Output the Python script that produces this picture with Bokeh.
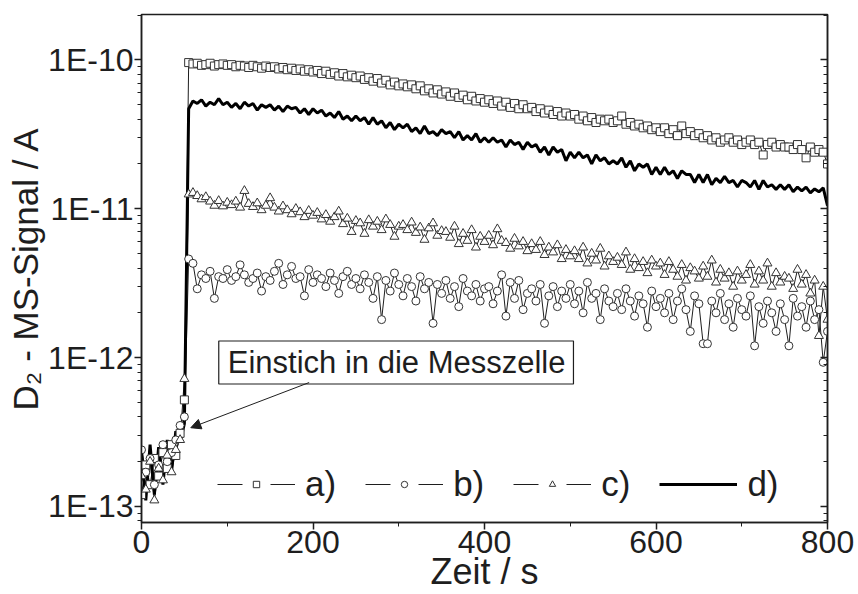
import numpy as np
from bokeh.plotting import figure
from bokeh.models import (Range1d, FixedTicker, LogAxis, CustomJSTickFormatter,
                          Legend, LegendItem, Label, Arrow, NormalHead)
from bokeh.embed import file_html
from bokeh.resources import INLINE

# ---------------- data (signal in pA = 1e-12 A) ----------------
time_s = list(range(0, 801, 5))

sig_a_pA = [0.12, 0.19, 0.14, 0.21, 0.16, 0.23, 0.18, 0.26, 0.22, 0.31,
            0.52,
            96, 94, 95, 92, 93, 95, 91, 93, 94, 92,
            93, 90, 92, 91, 89, 92, 90, 88, 91, 89,
            90, 87, 89, 86, 88, 85, 87, 84, 86, 83,
            85, 81, 84, 80, 82, 78, 81, 77, 79, 76,
            78, 74, 76, 72, 75, 70, 73, 68, 71, 67,
            69, 66, 68, 64, 67, 62, 64, 60, 63, 59,
            61, 57, 60, 56, 58, 54, 57, 53, 55, 52,
            54, 51, 53, 49, 52, 48, 51, 47, 50, 47,
            48, 45, 47, 44, 46, 43, 45, 42, 44, 42,
            43, 40, 42, 39, 41, 38, 40, 39, 40, 38,
            39, 42, 37, 38, 36, 37, 35, 36, 34, 35,
            33, 35, 32, 34, 31, 36, 32, 33, 31, 32,
            30, 31, 29, 30, 28, 29, 30, 28, 29, 27,
            28, 29, 27, 28, 23, 27, 28, 26, 27, 26,
            26, 25, 27, 25, 22, 26, 24, 25, 24, 20]

sig_b_pA = [0.24, 0.17, 0.21, 0.14, 0.19, 0.26, 0.20, 0.23, 0.28, 0.35,
            0.40,
            4.6, 4.3, 2.9, 3.6, 3.4, 3.8, 2.5, 3.5, 3.4, 3.9,
            3.3, 3.5, 4.2, 3.6, 3.2, 3.4, 3.7, 2.8, 3.5, 3.3,
            3.8, 4.3, 3.1, 3.6, 4.1, 3.4, 3.5, 2.6, 3.9, 3.2,
            3.6, 3.4, 3.0, 3.7, 3.3, 2.7, 3.5, 3.8, 3.1, 3.4,
            2.9, 3.6, 3.2, 2.5, 3.5, 1.8, 3.3, 2.8, 3.7, 3.1,
            2.6, 3.4, 3.0, 2.4, 3.5, 2.9, 3.2, 1.7, 3.1, 2.7,
            3.3, 2.5, 3.0, 2.2, 3.4, 2.8, 2.6, 3.1, 2.4, 2.9,
            3.0, 2.3, 2.8, 3.6, 1.9, 3.2, 2.5, 3.3, 2.1, 2.7,
            2.9, 2.4, 3.1, 1.7, 2.6, 3.0, 2.2, 2.8, 2.5, 3.1,
            2.3, 2.8, 2.0, 3.2, 2.5, 2.7, 1.8, 2.9, 2.4, 2.2,
            2.7, 2.1, 2.9, 2.4, 1.9, 2.6, 2.3, 1.6, 2.8, 2.2,
            2.5, 2.0, 2.7, 1.8, 2.4, 2.9, 2.1, 1.5, 2.6, 2.3,
            1.24, 1.24, 2.4, 2.0, 2.7, 1.8, 2.3, 1.6, 2.5, 2.1,
            1.9, 2.6, 1.2, 2.2, 1.7, 2.4, 2.0, 1.5, 2.3, 1.8,
            1.2, 2.5, 1.9, 2.2, 1.6, 2.4, 1.8, 2.1, 0.93, 1.5]

sig_c_pA = [0.16, 0.13, 0.20, 0.11, 0.18, 0.15, 0.22, 0.17, 0.24, 0.28,
            0.72,
            12.5, 12.8, 12.2, 11.6, 12.0, 11.2, 10.5, 11.3, 10.4, 11.0,
            10.6, 11.2, 10.2, 13.2, 10.8, 10.3, 10.9, 9.8, 10.5, 11.8,
            10.2, 9.6, 10.4, 9.8, 9.2, 10.0, 9.5, 8.8, 9.7, 9.0,
            9.4, 8.5, 9.1, 8.2, 8.8, 9.6, 7.9, 8.6, 7.0, 8.3,
            8.0, 6.8, 8.4, 7.6, 8.2, 7.2, 8.5, 7.8, 6.5, 7.6,
            7.8, 7.2, 8.1, 6.9, 7.5, 6.2, 7.4, 8.0, 6.6, 7.1,
            7.0, 6.4, 7.6, 5.8, 6.8, 6.1, 7.2, 5.5, 6.5, 6.0,
            6.6, 5.7, 7.3, 6.1, 5.9, 5.4, 6.3, 5.6, 6.0, 5.2,
            5.8, 5.3, 6.0, 4.9, 5.5, 5.1, 5.7, 4.6, 5.3, 4.8,
            5.2, 4.6, 5.5, 4.3, 5.0, 4.5, 5.4, 4.1, 4.8, 4.4,
            4.7, 4.2, 5.1, 3.9, 4.6, 4.0, 4.4, 3.7, 4.5, 4.1,
            4.3, 3.6, 4.4, 3.9, 3.5, 4.2, 3.3, 4.0, 3.8, 3.4,
            4.1, 3.5, 4.5, 3.2, 3.9, 3.4, 3.7, 3.0, 3.8, 3.3,
            3.6, 4.2, 3.1, 3.8, 3.3, 4.3, 3.0, 3.7, 3.2, 3.5,
            3.4, 2.9, 3.9, 3.1, 3.6, 2.7, 3.3, 1.4, 3.0, 1.8]

sig_d_pA = [0.24, 0.11, 0.26, 0.12, 0.25, 0.14, 0.28, 0.17, 0.32, 0.27,
            0.36,
            47, 53, 51, 54, 49, 52, 50, 55, 50, 52,
            48, 51, 47, 52, 49, 51, 46, 50, 48, 50,
            46, 49, 45, 49, 47, 48, 44, 47, 43, 47,
            44, 46, 42, 44, 41, 45, 40, 42, 39, 42,
            39, 41, 37, 41, 37, 39, 35, 38, 34, 37,
            35, 37, 33, 35, 32, 36, 32, 33, 31, 34,
            32, 33, 30, 33, 29, 31, 29, 32, 28, 30,
            28, 30, 28, 29, 26, 29, 27, 28, 25, 28,
            26, 27, 24, 26, 23, 26, 24, 25, 21, 24,
            22, 24, 22, 23, 20, 23, 21, 22, 20, 21,
            20, 22, 19, 21, 18, 20, 19, 20, 17, 19,
            17, 19, 17, 18, 16, 18, 17, 17, 15, 17,
            15, 17, 14.5, 16, 15, 16.5, 15, 15.5, 14, 15.5,
            15, 14, 15.5, 13.5, 15.5, 14, 14.5, 13.5, 14.5, 13.5,
            14.5, 13, 14, 13.2, 14, 12.8, 13.6, 13, 13.8, 10.5]

series_labels = ["a)", "b)", "c)", "d)"]
x_ticks = [0, 200, 400, 600, 800]
x_minor = [100, 300, 500, 700]
y_decades = [-13, -12, -11, -10]

PA = 1e-12
t = np.array(time_s, dtype=float)
ya = np.array(sig_a_pA) * PA
yb = np.array(sig_b_pA) * PA
yc = np.array(sig_c_pA) * PA
yd = np.array(sig_d_pA) * PA

FONT = "Liberation Sans"
INK = "#1e1e1e"

p = figure(width=856, height=594, y_axis_type="log",
           x_range=Range1d(0, 800), y_range=Range1d(7.8e-14, 2.02e-10),
           output_backend="svg", toolbar_location=None,
           min_border_left=141, min_border_right=29, min_border_top=14,
           min_border_bottom=72)
p.grid.visible = False
p.outline_line_color = INK
p.outline_line_width = 1.5
p.background_fill_color = "white"
p.border_fill_color = "white"

y_major = [10.0 ** e for e in y_decades]
y_minor = [m * 10.0 ** e for e in range(-14, -9) for m in range(2, 10)]

# bottom axis
xa = p.xaxis[0]
xa.ticker = FixedTicker(ticks=x_ticks, minor_ticks=x_minor)
xa.axis_line_width = 1.5
xa.axis_line_color = INK
xa.major_tick_line_color = INK
xa.minor_tick_line_color = INK
xa.major_tick_line_width = 1.5
xa.major_tick_out = 7
xa.major_tick_in = 0
xa.minor_tick_out = 4
xa.minor_tick_in = 0
xa.major_label_text_font = FONT
xa.major_label_text_font_size = "32px"
xa.major_label_text_color = INK
xa.major_label_standoff = 1
xa.axis_label = "Zeit / s"
xa.axis_label_text_font = FONT
xa.axis_label_text_font_size = "36px"
xa.axis_label_text_font_style = "normal"
xa.axis_label_text_color = INK
xa.axis_label_standoff = -5

# left axis
ya_ax = p.yaxis[0]
ya_ax.ticker = FixedTicker(ticks=y_major, minor_ticks=y_minor)
ya_ax.formatter = CustomJSTickFormatter(code="return '1E' + Math.round(Math.log10(tick)).toString();")
ya_ax.axis_line_width = 1.5
ya_ax.axis_line_color = INK
ya_ax.major_tick_line_color = INK
ya_ax.minor_tick_line_color = INK
ya_ax.major_tick_line_width = 1.5
ya_ax.major_tick_out = 7
ya_ax.major_tick_in = 0
ya_ax.minor_tick_out = 4
ya_ax.minor_tick_in = 0
ya_ax.major_label_text_font = FONT
ya_ax.major_label_text_font_size = "32px"
ya_ax.major_label_text_color = INK
ya_ax.major_label_standoff = 1
ya_ax.axis_label = "D\u2082 - MS-Signal / A"
ya_ax.axis_label_text_font = FONT
ya_ax.axis_label_text_font_size = "35px"
ya_ax.axis_label_text_font_style = "normal"
ya_ax.axis_label_text_color = INK
ya_ax.axis_label_standoff = 0

# right axis (ticks inward, no labels)
ra = LogAxis(ticker=FixedTicker(ticks=y_major, minor_ticks=y_minor),
             formatter=CustomJSTickFormatter(code="return '';"),
             major_tick_in=7, major_tick_out=0, minor_tick_in=4, minor_tick_out=0,
             major_label_text_font_size="0px", major_label_standoff=0,
             axis_line_width=1.5, axis_line_color=INK,
             major_tick_line_color=INK, minor_tick_line_color=INK,
             major_tick_line_width=1.5)
p.add_layout(ra, "right")

# lines
la = p.line(t, ya, line_color=INK, line_width=1)
lb = p.line(t, yb, line_color=INK, line_width=1)
lc = p.line(t, yc, line_color=INK, line_width=1)
ld = p.line(t, yd, line_color="black", line_width=3)

# markers
sa = p.scatter(t, ya, marker="square", size=8, line_color="#333333", line_width=1, fill_color="white")
sb = p.scatter(t, yb, marker="circle", size=8, line_color="#333333", line_width=1, fill_color="white")
sc = p.scatter(t, yc, marker="triangle", size=9, line_color="#333333", line_width=1, fill_color="white")

# legend-only glyphs (hidden in the plot): broken line with a small symbol in the gap
gap_dash = "25 28"
lgl_a = p.line(t, ya, line_color=INK, line_width=1, line_dash=gap_dash, visible=False)
lgl_b = p.line(t, yb, line_color=INK, line_width=1, line_dash=gap_dash, visible=False)
lgl_c = p.line(t, yc, line_color=INK, line_width=1, line_dash=gap_dash, visible=False)
lga = p.scatter(t, ya, marker="square", line_color="#333333", line_width=1, fill_color="white", visible=False)
lgb = p.scatter(t, yb, marker="circle", line_color="#333333", line_width=1, fill_color="white", visible=False)
lgc = p.scatter(t, yc, marker="triangle", line_color="#333333", line_width=1, fill_color="white", visible=False)

legend = Legend(items=[LegendItem(label=series_labels[0], renderers=[lgl_a, lga]),
                       LegendItem(label=series_labels[1], renderers=[lgl_b, lgb]),
                       LegendItem(label=series_labels[2], renderers=[lgl_c, lgc]),
                       LegendItem(label=series_labels[3], renderers=[ld])],
                orientation="horizontal", location=(76, 18),
                glyph_width=78, glyph_height=16, label_standoff=10, spacing=29,
                padding=0, margin=0, border_line_color=None,
                background_fill_alpha=0, inactive_fill_alpha=0,
                label_text_font=FONT, label_text_font_size="35px",
                label_text_color=INK)
p.add_layout(legend)

# annotation box + arrow
note_x, note_y = 90.1, 9.27e-13
p.add_layout(Label(x=note_x, y=note_y, text="Einstich in die Messzelle",
                   text_font=FONT, text_font_size="31px", text_color=INK,
                   text_align="left", text_baseline="middle",
                   border_line_color=INK, border_line_width=1.2,
                   background_fill_color="white",
                   padding=dict(left=9, right=8, top=4, bottom=4)))

arrow_start = (195.5, 6.8e-13)
arrow_end = (57.5, 3.38e-13)
p.add_layout(Arrow(x_start=arrow_start[0], y_start=arrow_start[1],
                   x_end=arrow_end[0], y_end=arrow_end[1],
                   line_color=INK, line_width=1,
                   end=NormalHead(size=10, fill_color=INK, line_color=INK)))

open("out.html", "w").write(file_html(p, INLINE))
